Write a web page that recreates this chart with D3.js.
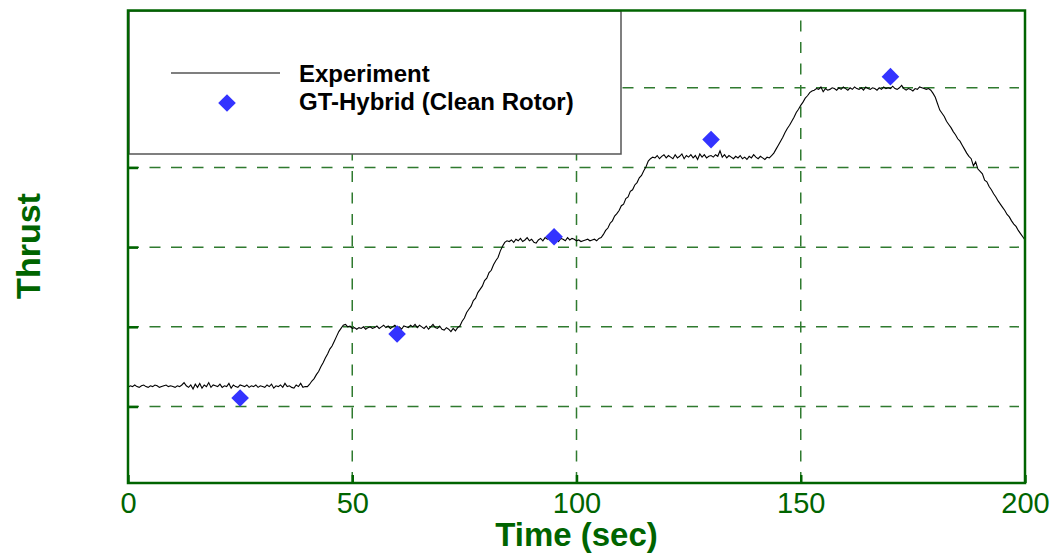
<!DOCTYPE html>
<html><head><meta charset="utf-8">
<script src="https://cdn.jsdelivr.net/npm/d3@7"></script>
<style>
body{margin:0;background:#fff;}
svg{display:block;font-family:"Liberation Sans",Arial,Helvetica,sans-serif;}
</style>
</head><body>
<svg id="chart" width="1061" height="559"></svg>
<script>
// ---------------- data ----------------
const xTicks = [0, 50, 100, 150, 200];
const yGridValues = [1, 2, 3, 4, 5];
const seriesNames = ["Experiment", "GT-Hybrid (Clean Rotor)"];
const xTitle = "Time (sec)";
const yTitle = "Thrust";

// GT-Hybrid predictions
const hybridTime = [25, 60, 95, 130, 170];
const hybridThrust = [1.107, 1.91, 3.13, 4.35, 5.14];

// Experiment: sampled every 0.5 s from t = 0 to t = 200
const expStart = 0;
const expStep = 0.5;
const expThrust = [
  // 0 - 39.5
  1.24,1.26,1.25,1.27,1.25,1.24,1.26,1.27,1.25,1.24,1.26,1.25,1.27,1.26,1.24,1.25,1.26,1.27,1.25,1.26,
  1.25,1.24,1.26,1.25,1.27,1.30,1.26,1.24,1.27,1.22,1.28,1.24,1.29,1.23,1.27,1.25,1.30,1.24,1.27,1.26,
  1.25,1.28,1.24,1.26,1.25,1.29,1.23,1.27,1.25,1.24,1.27,1.26,1.25,1.27,1.24,1.26,1.25,1.27,1.24,1.26,
  1.25,1.24,1.27,1.25,1.28,1.23,1.26,1.25,1.27,1.24,1.29,1.25,1.26,1.24,1.23,1.27,1.25,1.29,1.24,1.25,
  // 40 - 47.5
  1.25,1.28,1.32,1.35,1.40,1.44,1.50,1.55,1.61,1.66,1.72,1.76,1.82,1.88,1.94,1.98,
  // 48 - 73.5
  2.02,2.03,2.00,2.01,1.98,1.99,1.97,1.99,1.98,2.00,1.97,1.99,2.00,1.98,1.99,2.01,1.98,2.00,2.02,1.99,
  2.01,1.98,2.00,2.02,1.99,2.00,1.97,2.01,2.00,1.99,2.02,2.00,2.03,1.99,2.02,2.00,1.98,2.01,1.97,2.00,
  2.03,1.99,1.98,2.01,1.97,1.96,1.99,1.97,1.94,1.98,1.95,1.99,
  // 74 - 83.5
  2.01,2.07,2.11,2.18,2.22,2.26,2.33,2.36,2.43,2.47,2.51,2.58,2.61,2.68,2.71,2.78,2.83,2.87,2.95,3.01,
  // 84 - 105.5
  3.06,3.08,3.07,3.09,3.06,3.10,3.08,3.11,3.07,3.09,3.12,3.08,3.10,3.06,3.05,3.09,3.11,3.08,3.12,3.10,
  3.11,3.13,3.09,3.12,3.07,3.11,3.10,3.08,3.12,3.09,3.11,3.10,3.08,3.09,3.07,3.08,3.09,3.10,3.08,3.09,
  3.10,3.08,3.11,3.12,
  // 106 - 115.5
  3.16,3.21,3.24,3.30,3.33,3.39,3.42,3.46,3.52,3.54,3.61,3.63,3.70,3.72,3.78,3.81,3.87,3.90,3.96,4.01,
  // 116 - 143.5
  4.08,4.11,4.13,4.12,4.15,4.11,4.14,4.16,4.12,4.15,4.13,4.11,4.16,4.12,4.14,4.17,4.11,4.15,4.13,4.16,
  4.12,4.15,4.10,4.17,4.13,4.16,4.12,4.14,4.15,4.13,4.16,4.14,4.21,4.13,4.16,4.12,4.15,4.13,4.11,4.14,
  4.12,4.15,4.11,4.13,4.10,4.14,4.12,4.16,4.13,4.11,4.14,4.12,4.10,4.13,4.12,4.15,
  // 144 - 152.5
  4.18,4.23,4.28,4.33,4.38,4.44,4.49,4.53,4.58,4.63,4.69,4.73,4.78,4.82,4.87,4.90,4.94,4.96,
  // 153 - 178.5
  4.97,4.99,4.98,5.01,4.95,4.99,4.97,4.98,5.00,4.99,4.97,5.00,4.98,5.01,4.99,4.97,5.00,4.98,5.01,4.99,
  4.98,5.00,4.97,5.01,4.99,4.98,5.00,4.99,4.97,5.00,4.98,5.01,4.99,5.00,4.99,5.02,4.99,4.98,5.00,5.03,
  4.99,4.97,4.99,4.98,4.96,4.99,4.98,5.01,5.00,4.99,4.98,4.99,
  // 179 - 200
  4.97,4.93,4.88,4.80,4.72,4.68,4.64,4.58,4.54,4.50,4.45,4.41,4.36,4.33,4.28,4.23,4.18,4.14,4.11,4.02,
  4.07,3.98,3.95,3.92,3.84,3.82,3.76,3.72,3.67,3.63,3.58,3.54,3.50,3.46,3.41,3.38,3.33,3.29,3.26,3.21,
  3.17,3.13,3.09
];

// ---------------- chart ----------------
const svg = d3.select("#chart");
const axisGreen = "#006400";
const gridGreen = "#2f7a2f";
const L = 128, R = 1025, T = 10.5, B = 483;

const x = d3.scaleLinear().domain([0, 200]).range([L, R]);
const y = d3.scaleLinear().domain([0.04, 5.97]).range([B, T]);

svg.append("rect").attr("width", 1061).attr("height", 559).attr("fill", "#fff");

// grid
const grid = svg.append("g");
grid.selectAll(".hg").data(yGridValues).enter().append("line")
  .attr("x1", L).attr("x2", R - 6)
  .attr("y1", d => y(d)).attr("y2", d => y(d))
  .attr("stroke", gridGreen).attr("stroke-width", 1.5)
  .attr("stroke-dasharray", "11,10.5");
grid.selectAll(".vg").data(xTicks.slice(1, -1)).enter().append("line")
  .attr("x1", d => x(d)).attr("x2", d => x(d))
  .attr("y1", B).attr("y2", T)
  .attr("stroke", gridGreen).attr("stroke-width", 1.5)
  .attr("stroke-dasharray", "11,10.5");

// experiment line
const expData = expThrust.map((v, i) => ({t: expStart + i * expStep, v}));
svg.append("path").datum(expData)
  .attr("fill", "none").attr("stroke", "#000").attr("stroke-width", 1.1)
  .attr("d", d3.line().x(d => x(d.t)).y(d => y(d.v)));

// hybrid diamonds
const diamond = d3.symbol().type(d3.symbolSquare).size(155);
svg.selectAll(".dm").data(hybridTime.map((t, i) => ({t, v: hybridThrust[i]}))).enter()
  .append("path")
  .attr("d", diamond)
  .attr("transform", d => `translate(${x(d.t)},${y(d.v)}) rotate(45)`)
  .attr("fill", "#3333ff");

// y axis (inward ticks, no labels)
const yAxis = svg.append("g").attr("transform", `translate(${L},0)`)
  .call(d3.axisLeft(y).tickValues(yGridValues).tickSizeInner(-10).tickSizeOuter(0).tickFormat(""));
yAxis.select(".domain").remove();
yAxis.selectAll(".tick line").attr("stroke", axisGreen).attr("stroke-width", 2.5);

// x axis
const xAxis = svg.append("g").attr("transform", `translate(0,${B})`)
  .call(d3.axisBottom(x).tickValues(xTicks).tickSizeInner(-8).tickSizeOuter(0).tickPadding(9).tickFormat(d3.format("d")));
xAxis.select(".domain").remove();
xAxis.selectAll(".tick line").attr("stroke", axisGreen).attr("stroke-width", 2.5);
xAxis.selectAll(".tick text").attr("fill", axisGreen)
  .style("font-size", "29px").style("font-family", '"Liberation Sans",Arial,sans-serif');

// legend
const lg = svg.append("g");
lg.append("rect").attr("x", 129).attr("y", 11).attr("width", 492).attr("height", 143)
  .attr("fill", "#fff").attr("stroke", "#555").attr("stroke-width", 1.5);
lg.append("line").attr("x1", 171).attr("x2", 280).attr("y1", 73).attr("y2", 73)
  .attr("stroke", "#000").attr("stroke-width", 1.1);
lg.append("path").attr("d", diamond).attr("transform", "translate(227,103) rotate(45)").attr("fill", "#3333ff");
lg.selectAll(".lt").data(seriesNames).enter().append("text")
  .attr("x", 299).attr("y", (d, i) => 82 + i * 28)
  .attr("font-size", 24).attr("font-weight", "bold").attr("fill", "#000")
  .text(d => d);

// frame
svg.append("rect").attr("x", L).attr("y", T).attr("width", R - L).attr("height", B - T)
  .attr("fill", "none").attr("stroke", axisGreen).attr("stroke-width", 2.5);

// titles
svg.append("text").attr("x", (L + R) / 2).attr("y", 546).attr("text-anchor", "middle")
  .attr("font-size", 33).attr("font-weight", "bold").attr("fill", axisGreen).text(xTitle);
svg.append("text").attr("transform", "translate(40,246) rotate(-90)").attr("text-anchor", "middle")
  .attr("font-size", 34).attr("font-weight", "bold").attr("fill", axisGreen).text(yTitle);
</script>
</body></html>
